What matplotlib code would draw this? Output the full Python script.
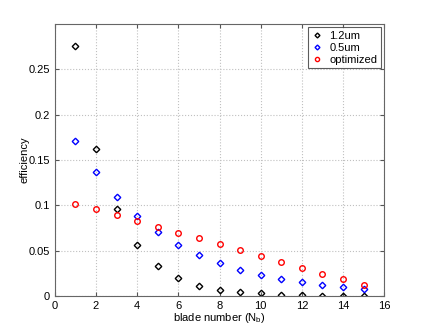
import matplotlib
matplotlib.use("Agg")
import matplotlib.pyplot as plt

plt.rcParams['font.family'] = ['Liberation Sans', 'DejaVu Sans']

blades = list(range(1, 16))
eff_12um = [0.276, 0.162, 0.0957, 0.056, 0.033, 0.0195, 0.0114, 0.0066,
            0.004, 0.003, 0.0015, 0.001, 0.0005, 0.0003, 0.0002]
eff_05um = [0.171, 0.137, 0.1096, 0.088, 0.0703, 0.0563, 0.0453, 0.036,
            0.029, 0.0235, 0.0188, 0.015, 0.012, 0.0096, 0.0077]
eff_opt = [0.102, 0.096, 0.0894, 0.083, 0.0765, 0.070, 0.0637, 0.057,
           0.0508, 0.0441, 0.0379, 0.0312, 0.0246, 0.0184, 0.0121]

fig = plt.figure(figsize=(4.25, 3.33), dpi=100)
ax = fig.add_axes([0.129, 0.111, 0.775, 0.817])

ax.plot(blades, eff_12um, linestyle='none', marker='D', markersize=3.3,
        markerfacecolor='none', markeredgecolor='black', markeredgewidth=1.0, label='1.2um')
ax.plot(blades, eff_05um, linestyle='none', marker='D', markersize=3.3,
        markerfacecolor='none', markeredgecolor='blue', markeredgewidth=1.0, label='0.5um')
ax.plot(blades, eff_opt, linestyle='none', marker='o', markersize=4,
        markerfacecolor='none', markeredgecolor='red', markeredgewidth=1.0, label='optimized')

ax.set_xlim(0, 16)
ax.set_ylim(0, 0.3)
ax.set_xticks(range(0, 17, 2))
ax.set_yticks([0, 0.05, 0.1, 0.15, 0.2, 0.25])
ax.set_yticklabels(['0', '0.05', '0.1', '0.15', '0.2', '0.25'])
ax.grid(True, linestyle=':', color='#c0c0c0', linewidth=0.8)
ax.tick_params(direction='in', top=True, right=True, labelsize=8, length=3, color='#555555')
for s in ax.spines.values():
    s.set_color('#666666')
    s.set_linewidth(0.8)

ax.set_xlabel('blade number (N$_\\mathregular{b}$)', fontsize=8, labelpad=0)
ax.set_ylabel('efficiency', fontsize=8, labelpad=-0.5)

leg = ax.legend(loc='upper right', fontsize=8, frameon=True, fancybox=False,
                handlelength=1.0, handletextpad=0.6, borderpad=0.3,
                labelspacing=0.2, borderaxespad=0.3, markerscale=0.75)
leg.get_frame().set_edgecolor('#333333')
leg.get_frame().set_linewidth(0.8)

fig.savefig('out.png', dpi=100)
